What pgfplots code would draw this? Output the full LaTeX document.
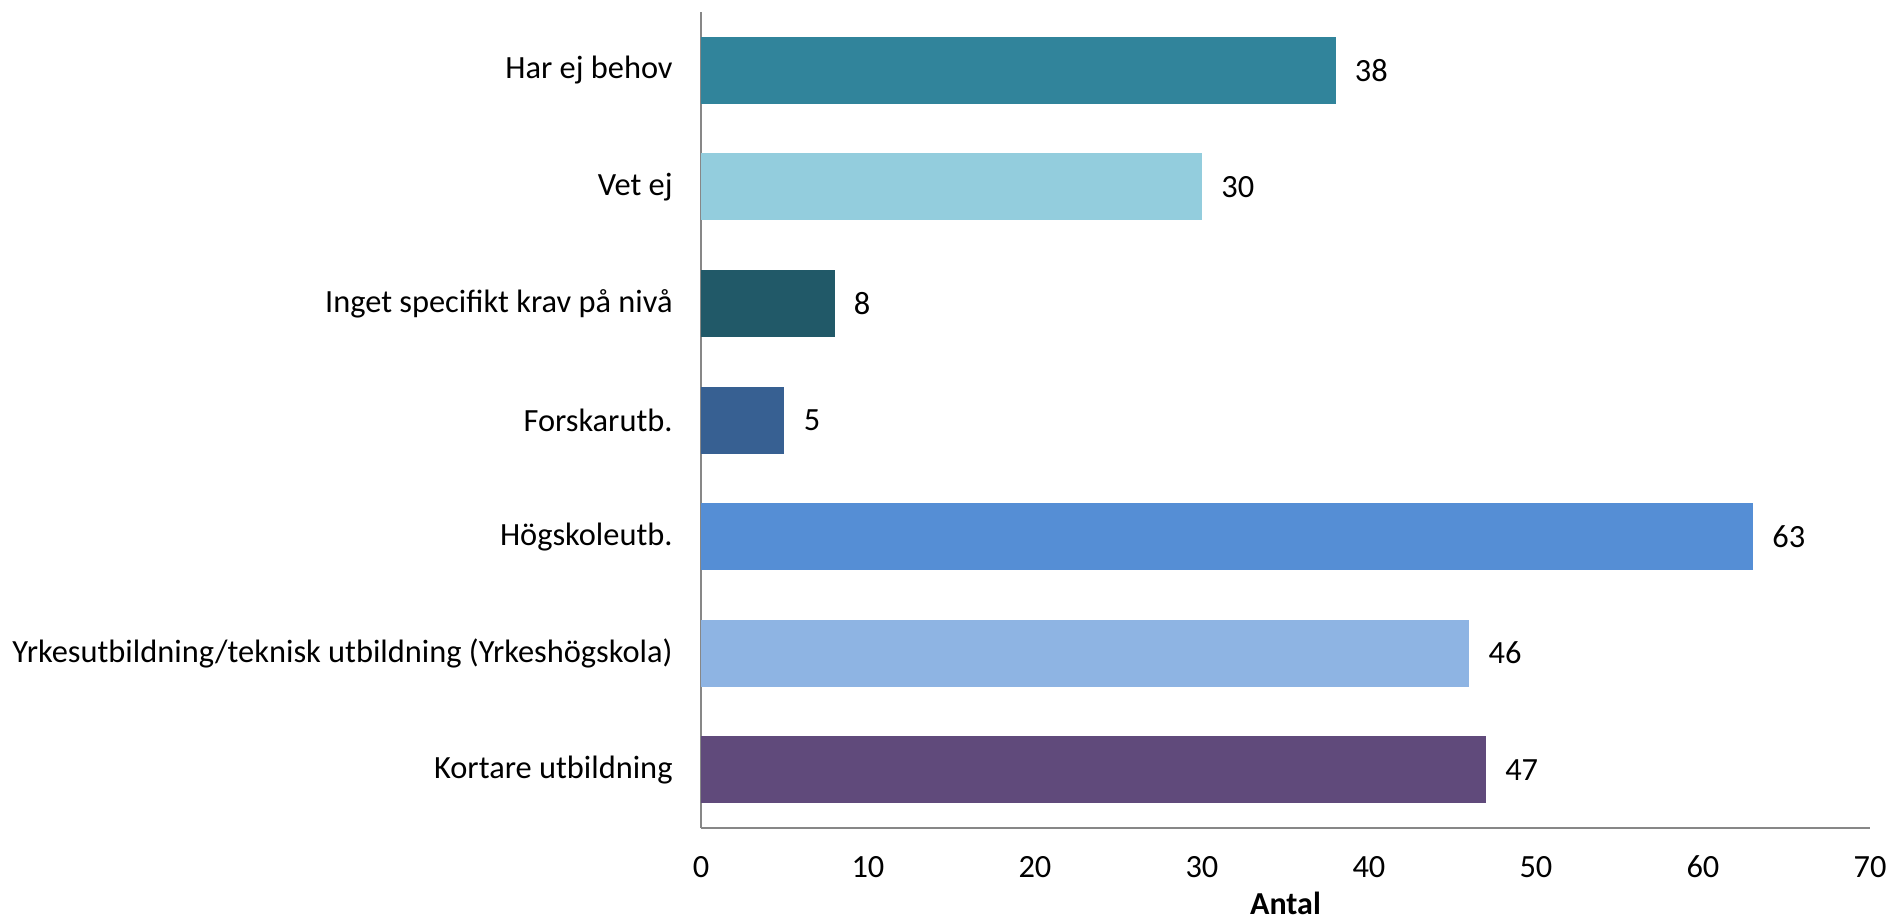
\documentclass[border=0pt]{standalone}
\usepackage{fontspec}
\setmainfont{Carlito}
\usepackage{pgfplots}
\pgfplotsset{compat=1.18}

\definecolor{c1}{HTML}{31849B}
\definecolor{c2}{HTML}{93CDDD}
\definecolor{c3}{HTML}{215968}
\definecolor{c4}{HTML}{376092}
\definecolor{c5}{HTML}{558ED5}
\definecolor{c6}{HTML}{8EB4E3}
\definecolor{c7}{HTML}{604A7B}
\definecolor{axgray}{HTML}{878787}

\begin{document}
\fontsize{16.2pt}{19pt}\selectfont
\begin{tikzpicture}
\useasboundingbox (-350.5pt,-47.5pt) rectangle (597pt,414pt);
\begin{axis}[
    at={(0,0)}, anchor=south west,
    scale only axis,
    width=584.5pt, height=408pt,
    xbar, bar width=0.575, bar shift=0pt,
    y dir=reverse,
    xmin=0, xmax=70,
    ymin=-0.5, ymax=6.5,
    xtick={0,10,...,70},
    ytick={0,...,6},
    yticklabels={Har ej behov, Vet ej, Inget specifikt krav på nivå, Forskarutb., Högskoleutb., Yrkesutbildning/teknisk utbildning (Yrkeshögskola), Kortare utbildning},
    major tick length=0pt,
    axis lines*=left,
    axis line style={draw=axgray, line width=0.75pt},
    /pgf/number format/assume math mode=true,
    tick label style={font=\fontsize{16.2pt}{19pt}\selectfont, inner sep=0pt},
    xticklabel style={anchor=center, yshift=-19.5pt},
    yticklabel style={anchor=east, xshift=-14pt},
    xlabel={\textbf{Antal}},
    xlabel style={at={(axis description cs:0.5,0)}, anchor=center, yshift=-37.5pt, inner sep=0pt, font=\fontsize{16pt}{19pt}\selectfont},
    nodes near coords,
    nodes near coords style={anchor=west, inner sep=0pt, xshift=9.5pt, font=\fontsize{16.2pt}{19pt}\selectfont, text=black},
    every axis plot/.append style={draw=none},
    clip=false,
]
\addplot[fill=c1] coordinates {(38,0)};
\addplot[fill=c2] coordinates {(30,1)};
\addplot[fill=c3] coordinates {(8,2)};
\addplot[fill=c4] coordinates {(5,3)};
\addplot[fill=c5] coordinates {(63,4)};
\addplot[fill=c6] coordinates {(46,5)};
\addplot[fill=c7] coordinates {(47,6)};
\end{axis}
\end{tikzpicture}
\end{document}
